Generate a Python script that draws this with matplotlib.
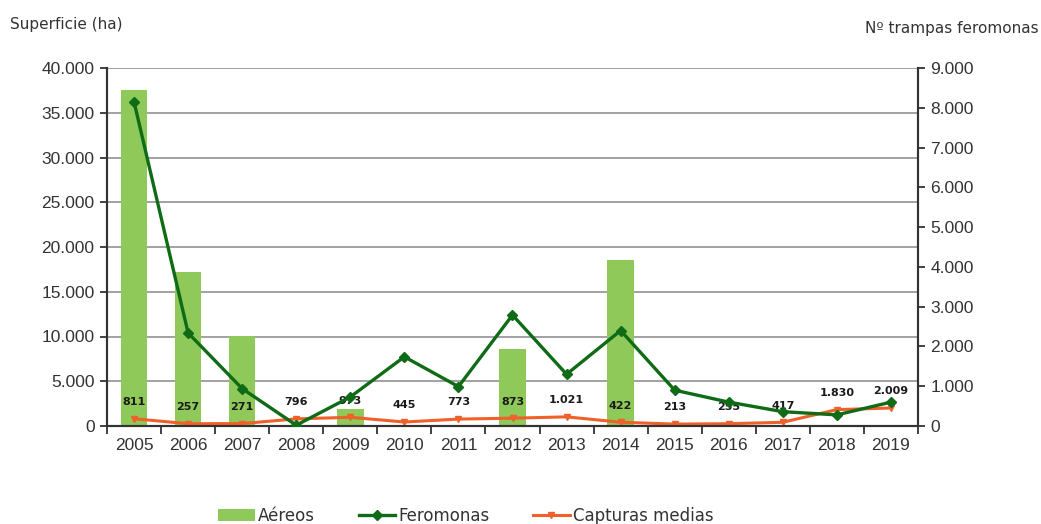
import matplotlib
matplotlib.use("Agg")
import matplotlib.pyplot as plt
from matplotlib.ticker import FuncFormatter, FixedLocator
import numpy as np

years = ["2005", "2006", "2007", "2008", "2009", "2010", "2011", "2012",
         "2013", "2014", "2015", "2016", "2017", "2018", "2019"]
aereos = [37500, 17200, 10100, 0, 1900, 0, 0, 8600, 0, 18500, 0, 0, 0, 0, 0]
feromonas = [8150, 2340, 940, 20, 730, 1740, 990, 2790, 1300, 2400, 900, 600, 360, 280, 600]
capturas = [811, 257, 271, 796, 973, 445, 773, 873, 1021, 422, 213, 255, 417, 1830, 2009]
capturas_labels = ["811", "257", "271", "796", "973", "445", "773", "873", "1.021",
                   "422", "213", "255", "417", "1.830", "2.009"]
left_ticks = [0, 5000, 10000, 15000, 20000, 25000, 30000, 35000, 40000]
right_ticks = [0, 1000, 2000, 3000, 4000, 5000, 6000, 7000, 8000, 9000]

plt.rcParams['font.family'] = ['Liberation Sans', 'DejaVu Sans']

def thousands(v, pos=None):
    return f"{int(v):,}".replace(",", ".")

fig = plt.figure(figsize=(10.41, 5.24), dpi=100)
ax = fig.add_axes([107/1041, 1-426/524, (918-107)/1041, (426-68)/524])
x = np.arange(len(years))

bar_color = "#8ec95a"
dark_green = "#0f6b16"
orange = "#f0602a"
text_col = "#333333"

bars = ax.bar(x, aereos, width=0.49, color=bar_color, zorder=2, label="Aéreos")
cap_line, = ax.plot(x, capturas, color=orange, lw=2.2, marker="v", ms=5, zorder=3,
                    label="Capturas medias")
for xi, v, lab in zip(x, capturas, capturas_labels):
    ax.annotate(lab, (xi, v), xytext=(0, 12), textcoords="offset points",
                ha="center", va="center", fontsize=8, fontweight="bold",
                color="#1a1a1a", family=["DejaVu Sans"], zorder=4)

ax.set_xlim(-0.5, len(years) - 0.5)
ax.set_ylim(0, 40000)
ax.yaxis.set_major_locator(FixedLocator(left_ticks))
ax.yaxis.set_major_formatter(FuncFormatter(thousands))
ax.grid(axis="y", color="#9a9a9a", lw=1.3, zorder=0)
ax.set_axisbelow(True)
ax.set_xticks(x)
ax.set_xticklabels(years)
ax.set_xticks(np.arange(-0.5, len(years), 1), minor=True)
ax.tick_params(axis="x", which="major", length=0, pad=9, labelsize=12.5, colors=text_col)
ax.tick_params(axis="x", which="minor", length=6, width=1.3, color="#333333")
ax.tick_params(axis="y", length=5, width=1.3, pad=4, labelsize=12.5, colors=text_col)
ax.spines["top"].set_visible(False)
for s in ["left", "bottom", "right"]:
    ax.spines[s].set_color("#333333")
    ax.spines[s].set_linewidth(1.5)

ax2 = ax.twinx()
fer_line, = ax2.plot(x, feromonas, color=dark_green, lw=2.4, marker="D", ms=5.5, zorder=5,
                     label="Feromonas")
ax2.set_ylim(0, 9000)
ax2.yaxis.set_major_locator(FixedLocator(right_ticks))
ax2.yaxis.set_major_formatter(FuncFormatter(thousands))
ax2.tick_params(axis="y", length=5, width=1.3, pad=4, labelsize=12.5, colors=text_col)
ax2.spines["top"].set_visible(False)
for s in ["left", "bottom", "right"]:
    ax2.spines[s].set_color("#333333")
    ax2.spines[s].set_linewidth(1.5)

fig.text(10/1041, 1-24/524, "Superficie (ha)", fontsize=11, color=text_col,
         ha="left", va="center", family=["DejaVu Sans"])
fig.text(1039/1041, 1-28/524, "Nº trampas feromonas", fontsize=11, color=text_col,
         ha="right", va="center", family=["DejaVu Sans"])

fig.legend([bars, fer_line, cap_line], ["Aéreos", "Feromonas", "Capturas medias"],
           loc="center", bbox_to_anchor=(466/1041, 1-516/524),
           ncol=3, frameon=False, prop={"family": "DejaVu Sans", "size": 12},
           handlelength=2.2, columnspacing=2.6,
           handletextpad=0.2, labelcolor=text_col)

fig.savefig("out.png", dpi=100, facecolor="white")
